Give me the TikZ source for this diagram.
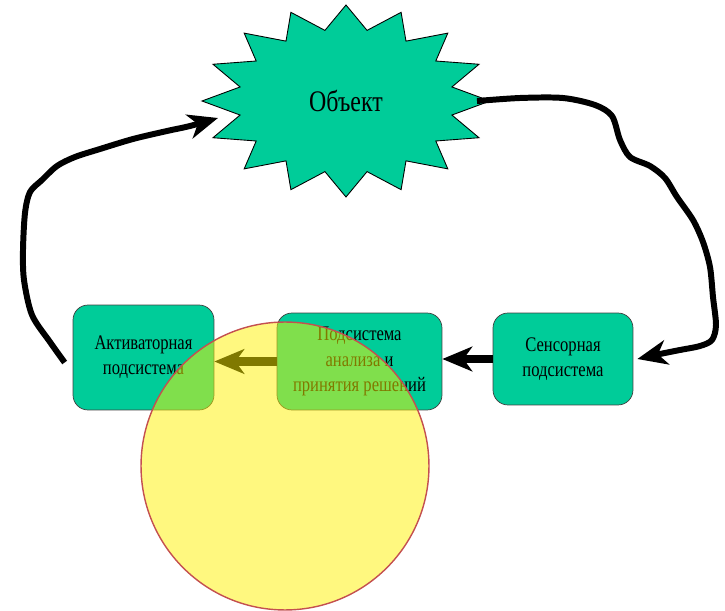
\documentclass[tikz,border=0pt]{standalone}
\usepackage{fontspec}
\setmainfont{Liberation Serif}[FakeStretch=0.8]
\usepackage{tikz}
\usetikzlibrary{arrows.meta}
\definecolor{boxgreen}{RGB}{0,204,153}
\definecolor{spotedge}{RGB}{196,80,80}
\tikzstyle{every node}=[font=\fontsize{11.8}{14.4}\selectfont]
\tikzstyle{subsys}=[draw=black!75, fill=boxgreen, rounded corners=0.3cm, align=center, inner sep=0pt]
\tikzstyle{loopline}=[line width=3.4pt, ->, line join=round]
\tikzstyle{flowline}=[line width=4.8pt, ->]
\tikzstyle{spot}=[draw=spotedge, line width=0.8pt, fill=yellow, fill opacity=0.5]

\begin{document}
\begin{tikzpicture}[>={Stealth[length=17pt,width=14pt,inset=5pt]}, x=0.02cm, y=-0.02cm]
                \useasboundingbox (0, 0) rectangle (725, 611);
                % object
                \coordinate (objc) at (346, 101);
                \draw [fill=boxgreen, line width=0.5pt] ([shift={(0, 96)}]objc)
                    \foreach \k [evaluate=\k as \rx using {144-36*mod(\k,2)}, evaluate=\k as \ry using {96-24*mod(\k,2)}] in {1,...,31} {
                        -- ([shift={({\rx*cos(90+11.25*\k)}, {\ry*sin(90+11.25*\k)})}]objc)
                    } -- cycle;
                \node [font=\fontsize{17}{20}\selectfont] (obj) at (objc) {Объект};
                % subsystems
                \node [subsys, minimum width=2.82cm, minimum height=2.1cm] (act) at (143.5, 357.5) {Активаторная\\подсистема};
                \node [subsys, minimum width=3.3cm, minimum height=1.94cm] (anal) at (359.5, 361.5) {Подсистема\\анализа и\\принятия решений};
                \node [subsys, minimum width=2.8cm, minimum height=1.84cm] (sens) at (563, 359) {Сенсорная\\подсистема};
                \draw [flowline] (sens.west) -- (sens.west -| anal.east);
                \draw [flowline] (anal.west) -- (anal.west -| act.east);
                % feedback loop
                \coordinate (objE) at (477, 101);
                \coordinate (objW) at (218, 118);
                \coordinate (sensIn) at ([xshift=0.08cm]sens.east);
                \coordinate (actOut) at ([shift={(-0.16cm,-0.1cm)}]act.west);
                \draw [loopline] plot [smooth, tension=0.5] coordinates {(objE) (520, 98) (563, 98) (595, 105) (612, 116) (620, 140) (630, 157) (650, 166) (665, 178) (677, 197) (693, 220) (703, 242) (710, 267) (713, 297) (716, 325) (712, 340) (700, 346) (680, 350) (660, 354) (sensIn)};
                \draw [loopline] plot [smooth, tension=0.5] coordinates {(actOut) (50, 342) (32, 315) (24, 280) (23, 250) (25, 213) (30, 192) (42, 180) (57, 166) (75, 157) (100, 149) (133, 139) (167, 131) (190, 126) (objW)};
                % highlight
                \path [spot] (285, 466) circle [radius=2.88cm];
            \end{tikzpicture}
\end{document}
